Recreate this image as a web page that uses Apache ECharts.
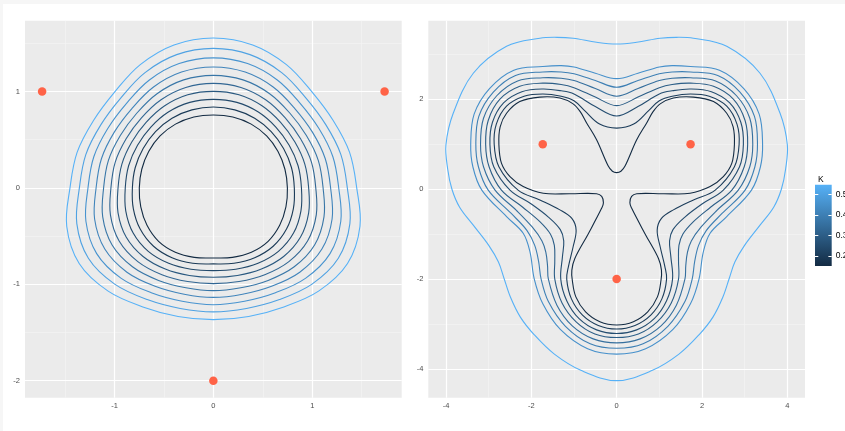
<!DOCTYPE html>
<html><head><meta charset="utf-8">
<script src="https://cdn.jsdelivr.net/npm/echarts@6/dist/echarts.min.js"></script>
<style>html,body{margin:0;padding:0;background:#fff;}#c{width:845px;height:431px;}</style>
</head><body><div id="c"></div>
<script>
// ---- data ----
const markerPts = [[-1.732, 1], [1.732, 1], [0, -2]];

// left panel: half contours (x >= 0), from top centre to bottom centre
const leftK1 = [[0,0.757],[0.197,0.736],[0.383,0.662],[0.539,0.539],[0.654,0.378],[0.724,0.194],[0.749,0],[0.734,-0.197],[0.671,-0.388],[0.554,-0.554],[0.385,-0.667],[0.193,-0.72],[0,-0.726]];
const leftK2 = [[0,0.84],[0.217,0.81],[0.418,0.724],[0.585,0.585],[0.71,0.41],[0.79,0.212],[0.819,0],[0.809,-0.217],[0.74,-0.427],[0.605,-0.605],[0.418,-0.724],[0.209,-0.781],[0,-0.788]];
const leftK3 = [[0,0.919],[0.238,0.888],[0.455,0.788],[0.632,0.632],[0.767,0.443],[0.857,0.23],[0.891,0],[0.886,-0.237],[0.811,-0.468],[0.658,-0.658],[0.452,-0.782],[0.226,-0.844],[0,-0.858]];
const leftK4 = [[0,1.002],[0.259,0.966],[0.492,0.852],[0.68,0.68],[0.825,0.477],[0.925,0.248],[0.964,0],[0.964,-0.258],[0.882,-0.509],[0.711,-0.711],[0.486,-0.841],[0.243,-0.908],[0,-0.927]];
const leftK5 = [[0,1.085],[0.279,1.042],[0.529,0.915],[0.727,0.727],[0.882,0.51],[0.993,0.266],[1.036,0],[1.041,-0.279],[0.953,-0.55],[0.764,-0.764],[0.52,-0.9],[0.26,-0.971],[0,-0.993]];
const leftK6 = [[0,1.168],[0.3,1.121],[0.566,0.98],[0.775,0.775],[0.941,0.544],[1.062,0.284],[1.11,0],[1.119,-0.3],[1.024,-0.592],[0.818,-0.818],[0.554,-0.959],[0.277,-1.035],[0,-1.065]];
const leftK7 = [[0,1.255],[0.322,1.202],[0.605,1.047],[0.824,0.824],[1.002,0.579],[1.132,0.303],[1.186,0],[1.201,-0.322],[1.098,-0.634],[0.874,-0.874],[0.589,-1.02],[0.295,-1.102],[0,-1.135]];
const leftK8 = [[0,1.349],[0.346,1.29],[0.647,1.12],[0.878,0.878],[1.068,0.617],[1.209,0.324],[1.268,0],[1.289,-0.345],[1.18,-0.681],[0.935,-0.935],[0.628,-1.087],[0.315,-1.175],[0,-1.211]];
const leftK9 = [[0,1.448],[0.371,1.383],[0.691,1.197],[0.935,0.935],[1.137,0.657],[1.29,0.346],[1.355,0],[1.381,-0.37],[1.264,-0.73],[0.998,-0.998],[0.669,-1.158],[0.335,-1.25],[0,-1.286]];
const leftK10 = [[0,1.556],[0.398,1.484],[0.739,1.28],[0.997,0.997],[1.212,0.7],[1.378,0.369],[1.45,0],[1.483,-0.397],[1.357,-0.784],[1.068,-1.068],[0.713,-1.234],[0.357,-1.333],[0,-1.366]];
const leftLevels = [0.15, 0.194, 0.238, 0.282, 0.326, 0.371, 0.415, 0.459, 0.503, 0.547];

// right panel: half contours (x <= 0), from top centre to bottom centre
const rightK1 = [[0,0.37],[-0.1,0.4],[-0.2,0.52],[-0.47,1.1],[-0.7,1.47],[-0.85,1.72],[-1.02,1.9],[-1.33,2.03],[-1.8,2.05],[-2.27,1.95],[-2.58,1.69],[-2.73,1.39],[-2.76,1.0],[-2.7,0.58],[-2.5,0.28],[-2.19,0.06],[-1.72,-0.09],[-1.09,-0.1],[-0.47,-0.1],[-0.35,-0.16],[-0.31,-0.3],[-0.35,-0.42],[-0.67,-1.0],[-0.98,-1.54],[-1.05,-1.8],[-1.04,-2.02],[-0.956,-2.396],[-0.728,-2.728],[-0.393,-2.947],[0,-3.02]];
const rightK2 = [[0,1.36],[-0.4,1.45],[-0.75,1.75],[-1.0,1.97],[-1.3,2.07],[-1.73,2.12],[-2.17,2.07],[-2.58,1.85],[-2.82,1.45],[-2.87,1.0],[-2.76,0.5],[-2.31,-0.02],[-1.8,-0.24],[-1.33,-0.46],[-1.05,-0.65],[-0.95,-0.91],[-1.02,-1.28],[-1.13,-1.72],[-1.17,-2.0],[-1.06,-2.44],[-0.8,-2.8],[-0.43,-3.03],[0,-3.11]];
const rightK3 = [[0,1.63],[-0.5,1.84],[-1.0,2.12],[-1.3,2.19],[-1.73,2.23],[-2.22,2.17],[-2.65,1.92],[-2.91,1.49],[-2.97,1.0],[-2.88,0.5],[-2.5,-0.02],[-2.0,-0.33],[-1.6,-0.62],[-1.32,-0.9],[-1.24,-1.15],[-1.27,-1.5],[-1.31,-2.0],[-1.17,-2.48],[-0.88,-2.88],[-0.47,-3.13],[0,-3.21]];
const rightK4 = [[0,1.86],[-0.5,2.05],[-1.0,2.26],[-1.3,2.33],[-1.73,2.36],[-2.27,2.29],[-2.74,2.0],[-3.01,1.53],[-3.07,1.0],[-2.99,0.5],[-2.7,-0.02],[-2.2,-0.4],[-1.8,-0.72],[-1.55,-1.0],[-1.46,-1.25],[-1.45,-1.6],[-1.45,-2.0],[-1.28,-2.53],[-0.95,-2.95],[-0.51,-3.22],[0,-3.3]];
const rightK5 = [[0,2.07],[-0.5,2.24],[-1.0,2.42],[-1.3,2.47],[-1.73,2.48],[-2.32,2.41],[-2.81,2.08],[-3.12,1.58],[-3.19,1.0],[-3.12,0.5],[-2.85,-0.02],[-2.35,-0.47],[-1.98,-0.84],[-1.75,-1.15],[-1.66,-1.4],[-1.62,-1.7],[-1.6,-2.0],[-1.4,-2.58],[-1.04,-3.04],[-0.55,-3.33],[0,-3.42]];
const rightK6 = [[0,2.27],[-0.5,2.42],[-1.0,2.57],[-1.3,2.61],[-1.73,2.61],[-2.37,2.53],[-2.89,2.16],[-3.23,1.62],[-3.3,1.0],[-3.24,0.5],[-3.01,-0.02],[-2.47,-0.54],[-2.1,-0.92],[-1.92,-1.25],[-1.83,-1.6],[-1.77,-2.0],[-1.6,-2.5],[-1.2,-3.05],[-0.62,-3.44],[0,-3.54]];
const rightK7 = [[0,2.46],[-0.5,2.58],[-1.0,2.72],[-1.3,2.75],[-1.73,2.73],[-2.41,2.65],[-2.98,2.24],[-3.34,1.67],[-3.42,1.0],[-3.37,0.5],[-3.16,-0.02],[-2.58,-0.61],[-2.19,-0.98],[-2.03,-1.4],[-1.93,-2.0],[-1.73,-2.55],[-1.32,-3.12],[-0.68,-3.55],[0,-3.67]];
const rightK8 = [[0,3.23],[-0.47,3.27],[-1.02,3.36],[-1.4,3.38],[-1.8,3.36],[-2.58,3.18],[-3.36,2.58],[-3.83,1.69],[-4.0,0.99],[-3.96,0.45],[-3.86,0.0],[-3.68,-0.4],[-3.36,-0.8],[-2.99,-1.26],[-2.77,-1.62],[-2.64,-1.98],[-2.49,-2.4],[-2.26,-2.84],[-1.93,-3.24],[-1.46,-3.67],[-0.84,-4.03],[0,-4.26]];
const rightLevels = [0.15, 0.2, 0.25, 0.3, 0.35, 0.4, 0.45, 0.547];

// axis ticks
const leftXMajor = [-1, 0, 1], leftXMinor = [-1.5, -0.5, 0.5, 1.5];
const leftYMajor = [-2, -1, 0, 1], leftYMinor = [-1.5, -0.5, 0.5, 1.5];
const rightXMajor = [-4, -2, 0, 2, 4], rightXMinor = [-3, -1, 1, 3];
const rightYMajor = [-4, -2, 0, 2], rightYMinor = [-3, -1, 1, 3];
const legendTicks = [0.2, 0.3, 0.4, 0.5];
const kRange = [0.15, 0.547];

// ---- build ----
const lowC = [19, 43, 67], highC = [86, 177, 247];
function colorAt(v) {
  const t = Math.max(0, Math.min(1, (v - kRange[0]) / (kRange[1] - kRange[0])));
  const c = lowC.map((a, i) => Math.round(a + (highC[i] - a) * t));
  return 'rgb(' + c.join(',') + ')';
}
// closed ring: the half as read, then its mirror image back up to the top
function ring(half) {
  return half.concat(half.slice(1, -1).reverse().map(p => [-p[0], p[1]]));
}
const leftCurves = [leftK1, leftK2, leftK3, leftK4, leftK5, leftK6, leftK7, leftK8, leftK9, leftK10];
const rightCurves = [rightK1, rightK2, rightK3, rightK4, rightK5, rightK6, rightK7, rightK8];

const font = "'Liberation Sans', Arial, Helvetica, sans-serif";
function gridLines(idx, xMaj, xMin, yMaj, yMin) {
  const d = [];
  xMin.forEach(v => d.push({ xAxis: v, lineStyle: { color: '#F5F5F5', width: 0.6 } }));
  yMin.forEach(v => d.push({ yAxis: v, lineStyle: { color: '#F5F5F5', width: 0.6 } }));
  xMaj.forEach(v => d.push({ xAxis: v, lineStyle: { color: '#FFFFFF', width: 1.2 } }));
  yMaj.forEach(v => d.push({ yAxis: v, lineStyle: { color: '#FFFFFF', width: 1.2 } }));
  return {
    type: 'line', xAxisIndex: idx, yAxisIndex: idx, data: [], silent: true, z: 1,
    markLine: { silent: true, z: 1, symbol: ['none', 'none'], label: { show: false },
      animation: false, lineStyle: { type: 'solid' }, data: d }
  };
}
function contour(pts, idx, color) {
  const pathPts = ring(pts);
  return {
    type: 'custom', xAxisIndex: idx, yAxisIndex: idx, data: [[0, 0]], silent: true, z: 3,
    renderItem: (params, api) => ({
      type: 'polygon',
      shape: { points: pathPts.map(p => api.coord(p)), smooth: 0.36 },
      style: { fill: null, stroke: color, lineWidth: 1.1 }
    })
  };
}
function valAxis(idx, min, max, ticks, pos) {
  return {
    type: 'value', gridIndex: idx, min: min, max: max, position: pos,
    axisLine: { show: false }, splitLine: { show: false },
    axisTick: { show: true, length: 2.7, customValues: ticks, lineStyle: { color: '#333333', width: 1 } },
    axisLabel: { customValues: ticks, color: '#4D4D4D', fontSize: 7.5, fontFamily: font,
      margin: pos === 'left' ? 5 : 4, formatter: v => String(v) }
  };
}

const series = [];
series.push(gridLines(0, leftXMajor, leftXMinor, leftYMajor, leftYMinor));
series.push(gridLines(1, rightXMajor, rightXMinor, rightYMajor, rightYMinor));
leftCurves.forEach((c, i) => series.push(contour(c, 0, colorAt(leftLevels[i]))));
rightCurves.forEach((c, i) => series.push(contour(c, 1, colorAt(rightLevels[i]))));
[0, 1].forEach(i => series.push({
  type: 'scatter', xAxisIndex: i, yAxisIndex: i, data: markerPts, symbolSize: 8.5, z: 5, silent: true,
  itemStyle: { color: '#FF6347', opacity: 1 }
}));
// colour bar of the legend
series.push({
  type: 'custom', xAxisIndex: 2, yAxisIndex: 2, data: [[0, kRange[1]]], silent: true, z: 1,
  renderItem: (params, api) => {
    const top = api.coord([0, kRange[1]]), bot = api.coord([0, kRange[0]]);
    const w = api.size([1, 0])[0];
    return { type: 'rect', shape: { x: top[0] - w / 2, y: top[1], width: w, height: bot[1] - top[1] },
      style: { fill: new echarts.graphic.LinearGradient(0, 0, 0, 1, [
        { offset: 0, color: 'rgb(' + highC.join(',') + ')' }, { offset: 1, color: 'rgb(' + lowC.join(',') + ')' }]) } };
  }
});

const chart = echarts.init(document.getElementById('c'), null, { renderer: 'canvas', width: 845, height: 431 });
chart.setOption({
  animation: false,
  backgroundColor: '#FFFFFF',
  graphic: [
    { type: 'rect', left: 0, top: 0, shape: { width: 845, height: 4 }, style: { fill: '#F6F6F6' }, silent: true, z: -1 },
    { type: 'rect', left: 0, top: 0, shape: { width: 3, height: 431 }, style: { fill: '#F6F6F6' }, silent: true, z: -1 }
  ],
  title: { text: 'K', left: 813, top: 170, textStyle: { fontSize: 8.5, fontWeight: 'normal', color: '#000', fontFamily: font } },
  grid: [
    { left: 25, top: 20.7, width: 376.7, height: 377, show: true, backgroundColor: '#EBEBEB', borderWidth: 0, outerBoundsMode: 'none', containLabel: false },
    { left: 428.3, top: 20.7, width: 376.7, height: 377, show: true, backgroundColor: '#EBEBEB', borderWidth: 0, outerBoundsMode: 'none', containLabel: false },
    { left: 815, top: 184.7, width: 16.7, height: 81.3, show: false, outerBoundsMode: 'none', containLabel: false }
  ],
  xAxis: [
    valAxis(0, -1.905, 1.905, leftXMajor, 'bottom'),
    valAxis(1, -4.414, 4.414, rightXMajor, 'bottom'),
    { type: 'category', gridIndex: 2, data: ['K'], show: false }
  ],
  yAxis: [
    valAxis(0, -2.176, 1.735, leftYMajor, 'left'),
    valAxis(1, -4.639, 3.75, rightYMajor, 'left'),
    { type: 'value', gridIndex: 2, min: kRange[0], max: kRange[1], position: 'right', z: 6,
      axisLine: { show: false }, splitLine: { show: false },
      axisTick: { show: true, inside: true, length: 3.3, customValues: legendTicks, lineStyle: { color: '#FFFFFF', width: 1 } },
      axisLabel: { customValues: legendTicks, color: '#000', fontSize: 8.5, fontFamily: font, margin: 4, formatter: v => v.toFixed(1) } },
    { type: 'value', gridIndex: 2, min: kRange[0], max: kRange[1], position: 'left', z: 6,
      axisLine: { show: false }, splitLine: { show: false },
      axisTick: { show: true, inside: true, length: 3.3, customValues: legendTicks, lineStyle: { color: '#FFFFFF', width: 1 } },
      axisLabel: { show: false } }
  ],
  series: series
});
</script></body></html>
